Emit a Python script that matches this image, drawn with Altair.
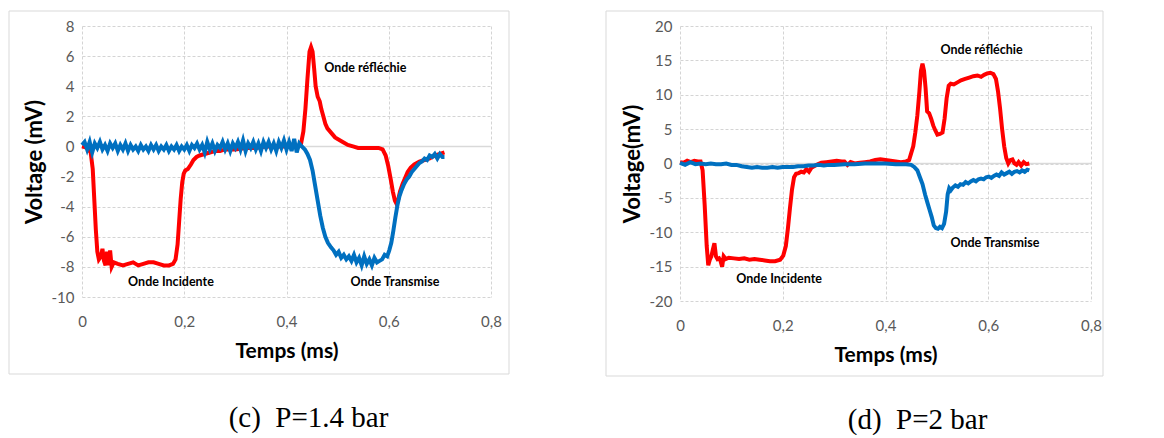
import altair as alt
import pandas as pd

# ---------------- Panel (c) P=1.4 bar ----------------
t_c_red = [0, 0.01, 0.017, 0.021, 0.024, 0.027, 0.030, 0.033, 0.037, 0.040,
           0.043, 0.046, 0.049, 0.052, 0.055, 0.058, 0.062, 0.07, 0.08, 0.09,
           0.10, 0.11, 0.12, 0.13, 0.14, 0.15, 0.16, 0.17, 0.178, 0.183,
           0.187, 0.190, 0.193, 0.196, 0.199, 0.202, 0.207, 0.213, 0.218, 0.224,
           0.23, 0.24, 0.25, 0.26, 0.27, 0.28, 0.30, 0.32, 0.34, 0.36,
           0.38, 0.40, 0.42, 0.428, 0.433, 0.437, 0.441, 0.445, 0.448, 0.451,
           0.454, 0.457, 0.461, 0.465, 0.468, 0.472, 0.476, 0.48, 0.485, 0.49,
           0.495, 0.50, 0.51, 0.52, 0.53, 0.54, 0.55, 0.56, 0.57, 0.58,
           0.588, 0.594, 0.599, 0.604, 0.608, 0.612, 0.615, 0.618, 0.622, 0.627,
           0.632, 0.637, 0.643, 0.65, 0.66, 0.67, 0.68, 0.69, 0.70, 0.709]
v_c_red = [0, -0.1, -0.4, -1.5, -3.5, -5.5, -7.0, -7.5, -7.3, -6.8,
           -7.6, -7.9, -7.0, -7.9, -6.9, -8.0, -7.7, -7.8, -7.9, -7.8,
           -7.7, -7.9, -7.8, -7.7, -7.7, -7.8, -7.9, -7.9, -7.8, -7.5,
           -6.5, -5.0, -3.5, -2.4, -1.8, -1.6, -1.5, -1.2, -0.9, -0.7,
           -0.6, -0.5, -0.4, -0.3, -0.3, -0.2, -0.2, -0.1, -0.1, 0.0,
           0.0, 0.0, 0.0, 0.1, 1.0, 2.5, 4.5, 6.3, 6.6, 6.3,
           5.2, 4.0, 3.3, 3.0, 2.5, 2.0, 1.5, 1.2, 1.0, 0.8,
           0.6, 0.5, 0.3, 0.1, 0.0, -0.1, -0.1, -0.1, -0.1, -0.1,
           -0.2, -0.6, -1.3, -2.2, -3.0, -3.6, -3.8, -3.6, -3.0, -2.5,
           -2.1, -1.7, -1.4, -1.2, -1.0, -0.9, -0.8, -0.6, -0.5, -0.4]

t_c_blue = [0, 0.005, 0.01, 0.015, 0.02, 0.025, 0.03, 0.035, 0.04, 0.045,
            0.05, 0.055, 0.06, 0.065, 0.07, 0.075, 0.08, 0.085, 0.09, 0.095,
            0.10, 0.105, 0.11, 0.115, 0.12, 0.125, 0.13, 0.135, 0.14, 0.145,
            0.15, 0.155, 0.16, 0.165, 0.17, 0.175, 0.18, 0.185, 0.19, 0.195,
            0.20, 0.205, 0.21, 0.215, 0.22, 0.225, 0.23, 0.235, 0.24, 0.245,
            0.25, 0.255, 0.26, 0.265, 0.27, 0.275, 0.28, 0.285, 0.29, 0.295,
            0.30, 0.305, 0.31, 0.315, 0.32, 0.325, 0.33, 0.335, 0.34, 0.345,
            0.35, 0.355, 0.36, 0.365, 0.37, 0.375, 0.38, 0.385, 0.39, 0.395,
            0.40, 0.405, 0.41, 0.415, 0.42, 0.425, 0.43,
            0.436, 0.441, 0.446, 0.451, 0.456, 0.461, 0.466, 0.471, 0.476, 0.481,
            0.487, 0.492, 0.497, 0.502, 0.507, 0.512, 0.517, 0.522, 0.527, 0.532,
            0.537, 0.542, 0.547, 0.552, 0.557, 0.562, 0.567, 0.572, 0.577, 0.582,
            0.587, 0.592, 0.597, 0.601, 0.605, 0.609, 0.613, 0.617, 0.621, 0.625,
            0.63, 0.635, 0.64, 0.645, 0.65, 0.655, 0.66, 0.665, 0.67, 0.675,
            0.68, 0.685, 0.69, 0.695, 0.70, 0.705, 0.709]
v_c_blue = [0.1, 0.3, -0.2, 0.3, -0.4, 0.2, -0.1, 0.3, -0.2, 0.1,
            -0.3, 0.2, -0.1, 0.2, -0.3, 0.1, -0.2, 0.2, -0.3, 0.1,
            -0.2, 0.0, -0.3, 0.1, -0.2, 0.0, -0.3, 0.1, -0.2, 0.1,
            -0.3, 0.0, -0.2, 0.1, -0.3, 0.0, -0.2, 0.1, -0.3, 0.0,
            -0.2, 0.1, -0.3, 0.1, -0.1, 0.2, -0.2, 0.1, -0.4, 0.3,
            -0.2, 0.2, -0.3, 0.1, -0.1, 0.3, -0.2, 0.2, -0.3, 0.2,
            -0.1, 0.3, -0.2, 0.4, -0.3, 0.2, -0.1, 0.3, -0.2, 0.2,
            -0.3, 0.3, -0.1, 0.3, -0.2, 0.2, -0.3, 0.3, -0.1, 0.4,
            -0.2, 0.3, -0.3, 0.5, -0.4, 0.2, 0.0,
            -0.2, -0.5, -0.9, -1.6, -2.6, -3.6, -4.6, -5.4, -6.0, -6.4,
            -6.7, -6.9, -7.2, -7.0, -7.4, -7.2, -7.5, -7.3, -7.6, -7.2,
            -7.7, -7.4, -7.9, -7.3, -7.8, -7.5, -7.9, -7.4, -7.7, -7.6,
            -7.5, -7.2, -7.3, -6.9, -6.4, -5.6, -4.7, -3.9, -3.3, -2.9,
            -2.5, -2.2, -2.0, -1.7, -1.5, -1.3, -1.1, -1.0, -0.8, -0.9,
            -0.6, -0.7, -0.5, -0.8, -0.5, -0.7, -0.7]

ann_c_text = ["Onde réfléchie", "Onde Incidente", "Onde Transmise"]
ann_c_t = [0.554, 0.174, 0.612]
ann_c_v = [5.23, -8.98, -8.98]

# ---------------- Panel (d) P=2 bar ----------------
t_d_red = [0, 0.007, 0.014, 0.021, 0.028, 0.035, 0.04, 0.044, 0.048, 0.052,
           0.055, 0.058, 0.061, 0.064, 0.067, 0.070, 0.073, 0.076, 0.079, 0.082,
           0.085, 0.089, 0.095, 0.105, 0.115, 0.125, 0.135, 0.145, 0.155, 0.165,
           0.175, 0.185, 0.195, 0.201, 0.206, 0.210, 0.214, 0.218, 0.222, 0.226,
           0.231, 0.236, 0.241, 0.246, 0.251, 0.256, 0.261, 0.268, 0.275, 0.285,
           0.295, 0.305, 0.315, 0.32, 0.326, 0.332, 0.34, 0.35, 0.36, 0.37,
           0.38, 0.39, 0.40, 0.41, 0.42, 0.43, 0.44, 0.446, 0.45, 0.454,
           0.458, 0.462, 0.466, 0.469, 0.472, 0.475, 0.478, 0.481, 0.485, 0.489,
           0.493, 0.497, 0.501, 0.506, 0.511, 0.515, 0.519, 0.523, 0.527, 0.533,
           0.54, 0.547, 0.555, 0.563, 0.571, 0.579, 0.586, 0.592, 0.598, 0.604,
           0.61, 0.615, 0.619, 0.623, 0.627, 0.631, 0.635, 0.639, 0.643, 0.647,
           0.651, 0.655, 0.659, 0.664, 0.669, 0.674, 0.68]
v_d_red = [0.2, 0.1, 0.4, 0.2, 0.4, 0.3, 0.3, -1.0, -6.0, -12.0,
           -14.8, -14.0, -13.5, -12.5, -11.6, -13.5, -13.9, -13.8, -14.2, -15.0,
           -13.5, -13.9, -13.7, -13.8, -13.9, -13.8, -14.0, -13.9, -14.0, -14.1,
           -14.2, -14.2, -14.0, -13.4, -12.0, -9.5, -6.5, -3.8, -2.0, -1.5,
           -1.4, -1.2, -1.3, -0.8, -1.2, -0.6, -0.4, -0.1, 0.1, 0.2,
           0.3, 0.4, 0.3, 0.3, -0.2, 0.2, 0.0, 0.1, 0.2, 0.3,
           0.5, 0.6, 0.5, 0.4, 0.3, 0.2, 0.3, 0.5, 1.5, 2.5,
           4.5, 7.0, 10.5, 13.5, 14.5, 13.5, 11.0, 7.6, 7.3, 6.5,
           5.5, 4.8, 4.2, 4.3, 4.5, 6.5, 9.5, 11.3, 11.6, 11.5,
           11.8, 12.1, 12.3, 12.5, 12.7, 12.8, 12.6, 12.9, 13.1, 13.2,
           13.0, 12.3, 10.5, 8.0, 5.0, 2.5, 0.8, 0.0, 0.5, 0.6,
           0.0, -0.2, 0.2, -0.3, 0.2, -0.1, 0.0]

t_d_blue = [0, 0.01, 0.02, 0.03, 0.04, 0.05, 0.06, 0.07, 0.08, 0.09,
            0.10, 0.11, 0.12, 0.13, 0.14, 0.15, 0.16, 0.17, 0.18, 0.19,
            0.20, 0.21, 0.22, 0.23, 0.24, 0.25, 0.26, 0.27, 0.28, 0.29,
            0.30, 0.32, 0.34, 0.36, 0.38, 0.40, 0.42, 0.44, 0.45, 0.456,
            0.462, 0.467, 0.472, 0.477, 0.482, 0.486, 0.49, 0.494, 0.498, 0.502,
            0.506, 0.51, 0.514, 0.518, 0.521, 0.524, 0.527, 0.531, 0.536, 0.541,
            0.546, 0.551, 0.556, 0.561, 0.566, 0.571, 0.576, 0.581, 0.586, 0.591,
            0.596, 0.601, 0.606, 0.611, 0.616, 0.621, 0.626, 0.631, 0.636, 0.641,
            0.646, 0.651, 0.656, 0.661, 0.666, 0.671, 0.676, 0.68]
v_d_blue = [0.1, -0.2, 0.2, -0.1, 0.0, -0.1, 0.0, -0.1, -0.1, 0.0,
            -0.2, -0.2, -0.4, -0.5, -0.6, -0.5, -0.6, -0.6, -0.5, -0.6,
            -0.5, -0.5, -0.5, -0.4, -0.4, -0.3, -0.3, -0.2, -0.3, -0.2,
            -0.2, -0.1, -0.1, 0.0, 0.0, 0.0, -0.1, -0.1, -0.2, -0.5,
            -1.0, -2.0, -3.0, -4.5, -5.8, -6.8, -7.8, -9.0, -9.4, -9.5,
            -9.2, -9.4, -8.8, -7.0, -4.5, -3.6, -3.9, -3.5, -3.2, -3.4,
            -3.0, -3.1, -2.7, -2.9, -2.6, -2.4, -2.6, -2.3, -2.2, -2.3,
            -2.0, -1.9, -2.1, -1.8, -1.6, -1.8, -1.3, -1.6, -1.4, -1.2,
            -1.5, -1.2, -1.1, -1.3, -1.0, -1.2, -0.9, -1.0]

ann_d_text = ["Onde réfléchie", "Onde Transmise", "Onde Incidente"]
ann_d_t = [0.587, 0.613, 0.193]
ann_d_v = [16.5, -11.6, -16.8]

x_ticks = [0, 0.2, 0.4, 0.6, 0.8]
y_ticks_c = [-10, -8, -6, -4, -2, 0, 2, 4, 6, 8]
y_ticks_d = [-20, -15, -10, -5, 0, 5, 10, 15, 20]

RED = "#ff0000"
BLUE = "#0070c0"
GRID = "#d4d4d4"
FONT = "Lato"


def panel(t_red, v_red, t_blue, v_blue, y_ticks, y_title, ann_t, ann_v, ann_txt,
          caption, w, h, frame, cap_dx):
    red = pd.DataFrame({"t": t_red, "v": v_red})
    blue = pd.DataFrame({"t": t_blue, "v": v_blue})
    ann = pd.DataFrame({"t": ann_t, "v": ann_v, "txt": ann_txt})
    xs = alt.Scale(domain=[x_ticks[0], x_ticks[-1]], nice=False)
    ys = alt.Scale(domain=[y_ticks[0], y_ticks[-1]], nice=False)
    xaxis = alt.Axis(values=x_ticks, title="Temps (ms)",
                     labelExpr="datum.value == 0 ? '0' : replace(format(datum.value, '.1f'), '.', ',')",
                     grid=True, gridDash=[3, 2], gridColor=GRID, domain=False, ticks=False,
                     labelFlush=False, labelPadding=17, titlePadding=11,
                     labelFontSize=15, titleFontSize=21,
                     labelColor="#595959", titleColor="#000000", labelFont=FONT, titleFont=FONT,
                     titleFontWeight="bold")
    yaxis = alt.Axis(values=y_ticks, title=y_title, labelExpr="'' + datum.value",
                     grid=True, gridDash=[3, 2], gridColor=GRID, domain=False, ticks=False,
                     labelFlush=False, labelPadding=8, titlePadding=5,
                     labelFontSize=15, titleFontSize=22,
                     labelColor="#595959", titleColor="#000000", labelFont=FONT, titleFont=FONT,
                     titleFontWeight="bold")

    one = pd.DataFrame({"a": [0]})
    frame_rect = alt.Chart(one).mark_rect(
        fillOpacity=0, stroke="#d9d9d9", strokeWidth=1
    ).encode(x=alt.value(frame[0]), x2=alt.value(frame[1]),
             y=alt.value(frame[2]), y2=alt.value(frame[3]))

    zero = alt.Chart(pd.DataFrame({"z": [0]})).mark_rule(
        color="#d9d9d9", strokeWidth=1.5
    ).encode(y=alt.Y("z:Q", scale=ys, axis=yaxis))

    red_line = alt.Chart(red).mark_line(color=RED, strokeWidth=4).encode(
        x=alt.X("t:Q", scale=xs, axis=xaxis),
        y=alt.Y("v:Q", scale=ys, axis=yaxis),
        order="t:Q")
    blue_line = alt.Chart(blue).mark_line(color=BLUE, strokeWidth=4).encode(
        x=alt.X("t:Q", scale=xs, axis=xaxis),
        y=alt.Y("v:Q", scale=ys, axis=yaxis),
        order="t:Q")
    labels = alt.Chart(ann).mark_text(
        font=FONT, fontSize=12.5, fontWeight="bold", color="#000000"
    ).encode(x=alt.X("t:Q", scale=xs, axis=xaxis),
             y=alt.Y("v:Q", scale=ys, axis=yaxis), text="txt:N")

    return alt.layer(frame_rect, zero, red_line, blue_line, labels).properties(
        width=w, height=h,
        title=alt.TitleParams(caption, orient="bottom", font="Liberation Serif",
                              fontSize=29, fontWeight="normal", color="#000000",
                              anchor="middle", frame="group", dx=cap_dx, offset=29),
    )


left = panel(t_c_red, v_c_red, t_c_blue, v_c_blue, y_ticks_c, "Voltage (mV)",
             ann_c_t, ann_c_v, ann_c_text, "(c)\u00a0\u00a0P=1.4 bar", 409, 271,
             (-73, 427, -15, 348), 22)
right = panel(t_d_red, v_d_red, t_d_blue, v_d_blue, y_ticks_d, "Voltage(mV)",
              ann_d_t, ann_d_v, ann_d_text, "(d)\u00a0\u00a0P=2 bar", 411, 275,
              (-74, 423, -15, 350), 32)

chart = alt.hconcat(left, right, spacing=95).properties(
    padding={"left": 0, "top": 2, "right": 0, "bottom": 0}
).configure_view(stroke=None).resolve_scale(x="independent", y="independent")

chart.save("out.html", embed_options={"renderer": "svg", "actions": False})
